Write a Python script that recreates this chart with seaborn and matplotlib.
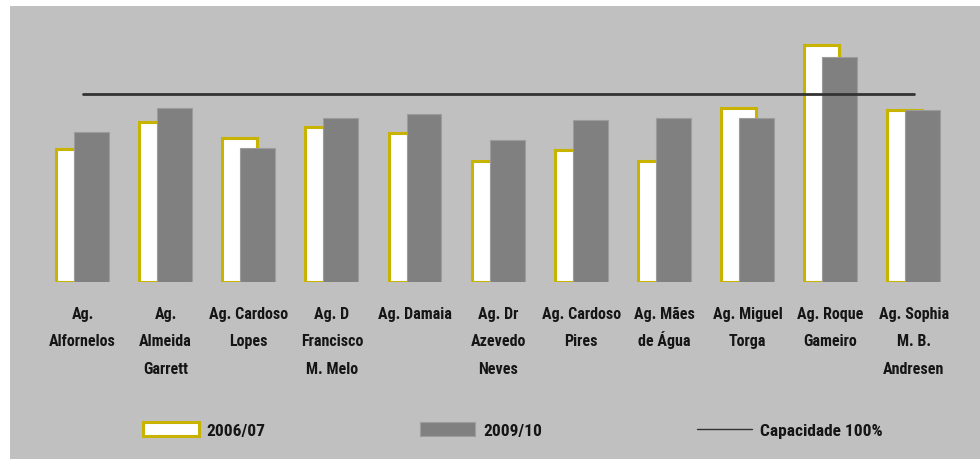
import numpy as np
import matplotlib
matplotlib.use("Agg")
import matplotlib.pyplot as plt
from matplotlib.patches import Rectangle
from matplotlib import font_manager
import seaborn as sns

# agrupamentos de escolas
categories = ["Alfornelos", "Almeida Garrett", "Cardoso Lopes", "D Francisco M. Melo",
              "Damaia", "Dr Azevedo Neves", "Cardoso Pires", "Mães de Água",
              "Miguel Torga", "Roque Gameiro", "Sophia M. B. Andresen"]
tick_labels = ["Ag.\nAlfornelos", "Ag.\nAlmeida\nGarrett", "Ag. Cardoso\nLopes",
               "Ag. D\nFrancisco\nM. Melo", "Ag. Damaia", "Ag. Dr\nAzevedo\nNeves",
               "Ag. Cardoso\nPires", "Ag. Mães\nde Água", "Ag. Miguel\nTorga",
               "Ag. Roque\nGameiro", "Ag. Sophia\nM. B.\nAndresen"]

# ocupacao em % da capacidade
occ_2006 = [71.0, 85.0, 76.7, 82.7, 79.4, 64.6, 70.1, 64.6, 92.4, 126.3, 91.6]
occ_2009 = [79.6, 92.4, 71.1, 87.2, 89.2, 75.4, 86.0, 87.1, 87.1, 119.8, 91.5]
capacity = 100

sns.set_theme(style="white")
names = {f.name for f in font_manager.fontManager.ttflist}
narrow = [n for n in ["Liberation Sans Narrow", "Roboto Condensed", "Open Sans Condensed"] if n in names]
plt.rcParams['font.family'] = narrow + ['DejaVu Sans']
plt.rcParams['font.stretch'] = 'condensed'

BG = "#c0c0c0"
GOLD = "#c8b400"
GREY = "#808080"

fig = plt.figure(figsize=(9.8, 4.6), dpi=100)
fig.patch.set_facecolor("white")
fig.patches.append(Rectangle((10 / 980, 0), 1, 1 - 7 / 460, transform=fig.transFigure,
                             facecolor=BG, edgecolor="none", zorder=-1))

ax = fig.add_axes([24.4 / 980, 177 / 460, 947.4 / 980, 244.4 / 460])
ax.set_zorder(2)
ax.set_facecolor("none")

x = np.arange(len(categories))
shift = 0.108
sns.barplot(x=x - shift, y=occ_2006, native_scale=True, orient="x", width=0.42,
            color="white", saturation=1, edgecolor=GOLD, linewidth=2.2,
            label="2006/07", ax=ax)
sns.barplot(x=x + shift, y=occ_2009, native_scale=True, orient="x", width=0.42,
            color=GREY, saturation=1, edgecolor="#9c9c9c", linewidth=0.8,
            label="2009/10", ax=ax)
ax.plot([x[0], x[-1]], [capacity, capacity], color="#333333", lw=2.0,
        label="Capacidade 100%")
if ax.get_legend() is not None:
    ax.get_legend().remove()

ax.set_xlim(-0.7, 10.7)
ax.set_ylim(0, 130)
ax.set_xticks(x)
ax.set_xticklabels(tick_labels, fontsize=11.5, fontweight="bold", linespacing=2.07,
                   color="#151515")
# accented capital pushes its line down; compensate
for t in ax.get_xticklabels():
    if "Á" in t.get_text():
        t.set_linespacing(1.66)
ax.tick_params(axis="x", length=0, pad=17)
ax.set_yticks([])
ax.set_xlabel("")
ax.set_ylabel("")
for s in ax.spines.values():
    s.set_visible(False)

h, l = ax.get_legend_handles_labels()
order = [l.index(k) for k in ["2006/07", "2009/10", "Capacidade 100%"]]
h = [h[i] for i in order]
l = [l[i] for i in order]
leg = fig.legend(h, l, loc="center left", bbox_to_anchor=(143 / 980, 1 - 431 / 460),
                 ncol=3, frameon=False, prop={"size": 12.5, "weight": "bold"},
                 handlelength=3.2, handleheight=0.88, handletextpad=0.45,
                 columnspacing=8.9, borderpad=0, borderaxespad=0)
for t in leg.get_texts():
    t.set_color("#151515")
leg.legend_handles[2].set_linewidth(1.0)

fig.savefig("out.png", dpi=100)
plt.close(fig)
